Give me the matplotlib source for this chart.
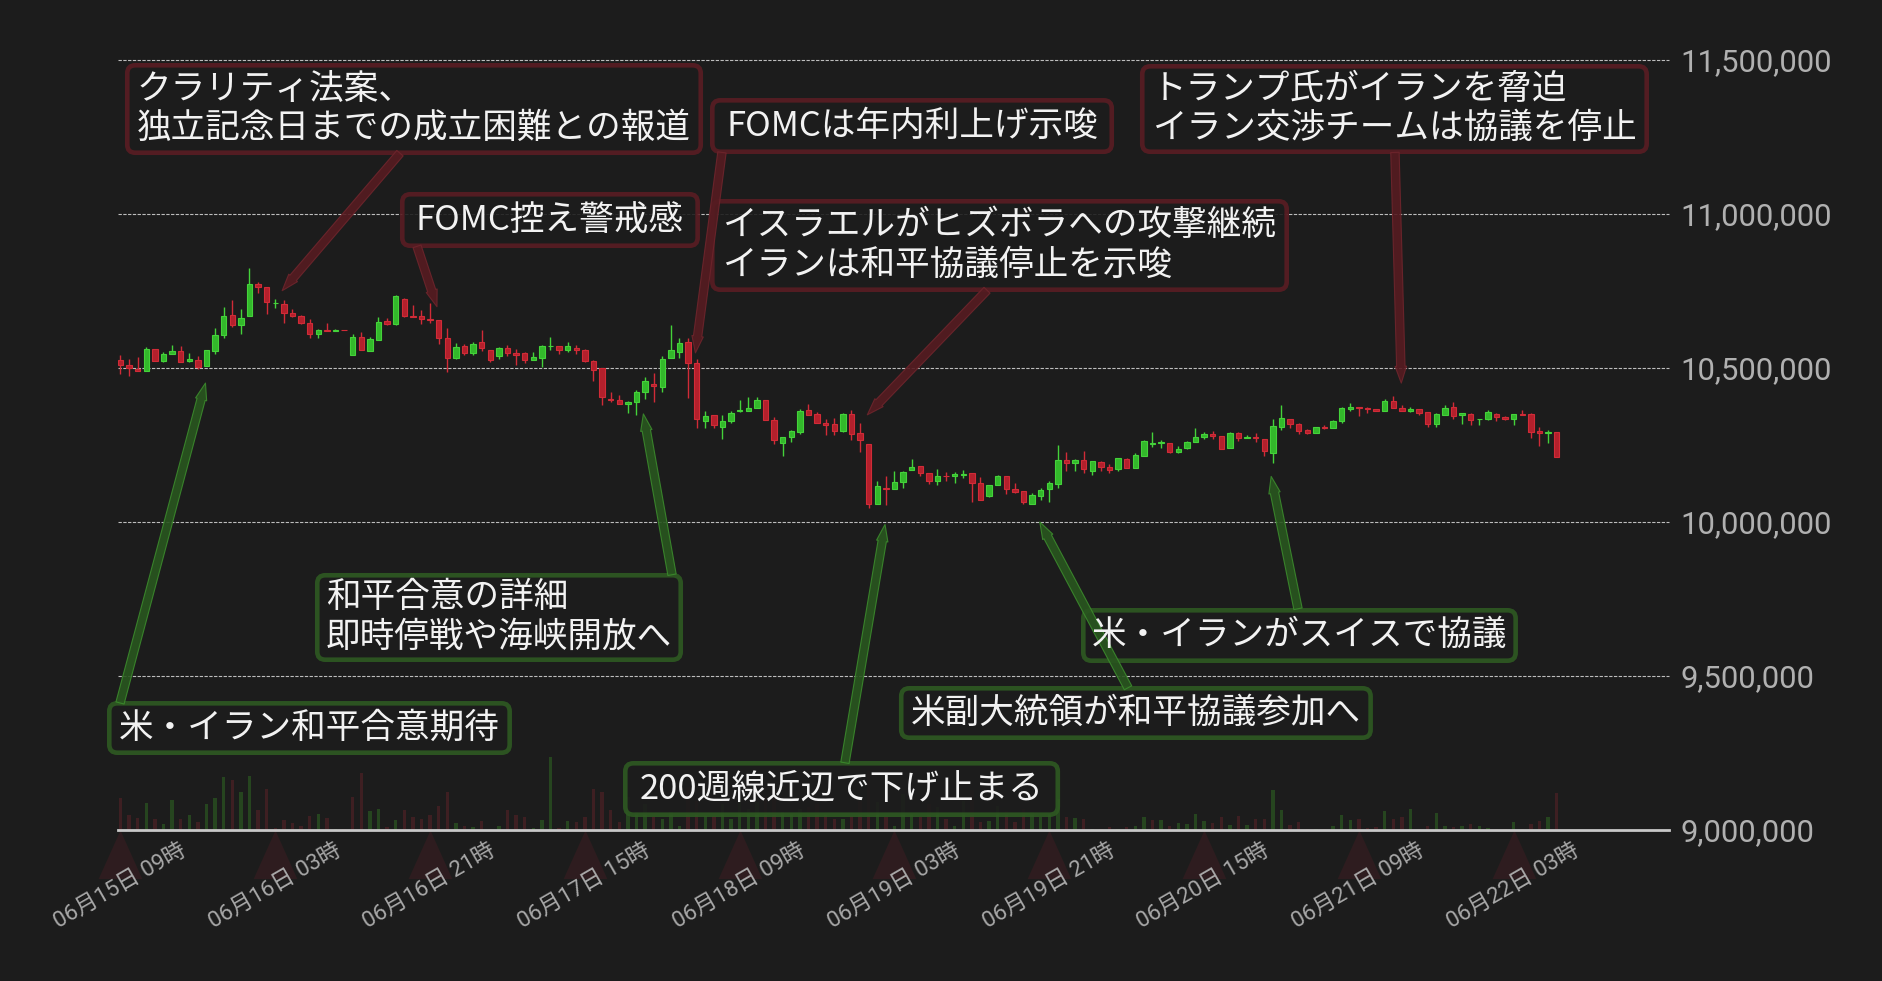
import numpy as np
import pandas as pd
import matplotlib
matplotlib.use("Agg")
import matplotlib.pyplot as plt
from matplotlib.patches import FancyBboxPatch
from matplotlib.path import Path

plt.rcParams['font.family'] = ['Noto Sans CJK JP', 'DejaVu Sans']

# ---------------- data (prices in thousand yen) ----------------
start_time = "2025-06-15 09:00"
opens = [10527, 10511, 10498, 10489, 10563, 10522, 10545, 10556, 10522, 10527,
         10505, 10554, 10606, 10673, 10638, 10668, 10774, 10764, 10710, 10709,
         10680, 10670, 10647, 10612, 10624, 10619, 10624, 10541, 10602, 10554,
         10590, 10654, 10642, 10725, 10670, 10670, 10660, 10657, 10598, 10531,
         10572, 10548, 10585, 10559, 10538, 10566, 10550, 10550, 10525, 10531,
         10570, 10572, 10557, 10566, 10559, 10524, 10499, 10400, 10397, 10382,
         10388, 10421, 10449, 10437, 10531, 10551, 10585, 10517, 10327, 10348,
         10310, 10327, 10359, 10362, 10369, 10397, 10332, 10255, 10275, 10291,
         10365, 10352, 10322, 10319, 10294, 10352, 10290, 10254, 10057, 10111,
         10108, 10129, 10168, 10183, 10160, 10132, 10150, 10148, 10151, 10160,
         10128, 10083, 10119, 10150, 10108, 10102, 10060, 10083, 10106, 10122,
         10202, 10193, 10202, 10164, 10196, 10180, 10171, 10206, 10174, 10215,
         10253, 10255, 10257, 10226, 10239, 10259, 10275, 10287, 10280, 10239,
         10290, 10272, 10277, 10270, 10223, 10310, 10335, 10319, 10300, 10288,
         10309, 10304, 10327, 10368, 10374, 10371, 10368, 10362, 10394, 10371,
         10362, 10368, 10358, 10317, 10349, 10374, 10347, 10352, 10333, 10333,
         10352, 10342, 10333, 10352, 10352, 10296, 10288, 10293]
highs = [10543, 10530, 10537, 10569, 10563, 10553, 10576, 10572, 10550, 10540,
         10559, 10631, 10699, 10722, 10693, 10826, 10780, 10764, 10725, 10722,
         10693, 10673, 10660, 10628, 10647, 10628, 10624, 10611, 10618, 10602,
         10667, 10663, 10738, 10728, 10706, 10689, 10712, 10657, 10631, 10582,
         10579, 10585, 10624, 10559, 10569, 10576, 10563, 10553, 10553, 10576,
         10602, 10572, 10585, 10576, 10563, 10527, 10499, 10423, 10413, 10394,
         10430, 10472, 10485, 10540, 10641, 10598, 10598, 10530, 10361, 10348,
         10348, 10361, 10397, 10407, 10407, 10397, 10342, 10277, 10300, 10368,
         10384, 10358, 10335, 10339, 10355, 10365, 10322, 10254, 10134, 10150,
         10167, 10167, 10206, 10183, 10160, 10173, 10163, 10163, 10170, 10160,
         10147, 10121, 10154, 10150, 10128, 10102, 10095, 10111, 10134, 10251,
         10228, 10206, 10231, 10199, 10199, 10189, 10209, 10209, 10225, 10267,
         10293, 10267, 10257, 10248, 10264, 10306, 10293, 10296, 10280, 10293,
         10293, 10283, 10290, 10270, 10335, 10381, 10335, 10322, 10303, 10309,
         10316, 10332, 10374, 10387, 10374, 10374, 10368, 10400, 10410, 10381,
         10374, 10368, 10358, 10355, 10381, 10391, 10353, 10355, 10335, 10365,
         10355, 10345, 10352, 10365, 10355, 10309, 10300, 10293]
lows = [10482, 10473, 10489, 10489, 10522, 10518, 10545, 10518, 10518, 10498,
        10505, 10544, 10596, 10632, 10612, 10668, 10742, 10674, 10694, 10645,
        10664, 10642, 10599, 10596, 10619, 10619, 10622, 10541, 10557, 10554,
        10590, 10638, 10638, 10664, 10664, 10642, 10645, 10577, 10486, 10528,
        10541, 10541, 10554, 10518, 10528, 10538, 10509, 10515, 10525, 10502,
        10557, 10544, 10551, 10544, 10518, 10457, 10379, 10388, 10382, 10353,
        10349, 10398, 10388, 10421, 10531, 10531, 10401, 10304, 10304, 10304,
        10268, 10320, 10356, 10362, 10369, 10330, 10252, 10213, 10259, 10285,
        10346, 10320, 10281, 10281, 10291, 10265, 10226, 10044, 10057, 10054,
        10106, 10109, 10168, 10148, 10122, 10119, 10132, 10125, 10142, 10064,
        10073, 10080, 10119, 10090, 10093, 10057, 10060, 10073, 10064, 10112,
        10167, 10167, 10158, 10151, 10164, 10158, 10164, 10174, 10174, 10213,
        10242, 10239, 10223, 10223, 10236, 10259, 10268, 10268, 10236, 10239,
        10262, 10272, 10259, 10213, 10190, 10298, 10304, 10285, 10285, 10288,
        10301, 10304, 10320, 10362, 10345, 10355, 10359, 10362, 10369, 10359,
        10356, 10349, 10307, 10307, 10346, 10336, 10317, 10314, 10314, 10330,
        10327, 10330, 10314, 10346, 10272, 10246, 10255, 10210]
closes = [10509, 10500, 10489, 10563, 10522, 10546, 10556, 10518, 10530, 10504,
          10559, 10608, 10670, 10638, 10663, 10774, 10762, 10713, 10712, 10677,
          10668, 10645, 10612, 10624, 10619, 10624, 10622, 10602, 10557, 10595,
          10650, 10642, 10735, 10668, 10664, 10658, 10655, 10596, 10531, 10569,
          10548, 10579, 10564, 10525, 10566, 10548, 10541, 10525, 10537, 10572,
          10572, 10557, 10572, 10557, 10522, 10492, 10405, 10395, 10382, 10391,
          10423, 10459, 10440, 10530, 10559, 10582, 10515, 10333, 10345, 10314,
          10329, 10355, 10365, 10371, 10397, 10330, 10265, 10277, 10296, 10361,
          10349, 10320, 10314, 10294, 10352, 10285, 10265, 10057, 10118, 10106,
          10131, 10163, 10180, 10158, 10132, 10150, 10148, 10157, 10157, 10125,
          10073, 10121, 10150, 10106, 10096, 10064, 10089, 10105, 10128, 10202,
          10193, 10202, 10171, 10199, 10177, 10168, 10209, 10174, 10218, 10264,
          10257, 10261, 10226, 10238, 10261, 10277, 10287, 10278, 10236, 10290,
          10272, 10277, 10272, 10229, 10313, 10339, 10317, 10294, 10288, 10309,
          10304, 10329, 10371, 10374, 10369, 10366, 10359, 10394, 10369, 10362,
          10368, 10353, 10317, 10352, 10371, 10343, 10353, 10330, 10335, 10358,
          10340, 10336, 10352, 10346, 10291, 10288, 10293, 10210]
volumes = [97, 46, 37, 82, 34, 19, 91, 34, 46, 25, 79, 97, 160, 151, 115, 163, 61, 124, 6, 31,
           22, 13, 43, 49, 37, 2, 2, 100, 172, 58, 64, 10, 31, 61, 40, 34, 46, 73, 115, 22,
           13, 10, 28, 2, 13, 61, 46, 40, 7, 31, 220, 7, 28, 25, 40, 124, 115, 61, 23, 98,
           53, 78, 40, 33, 53, 13, 128, 88, 43, 43, 78, 33, 103, 63, 83, 98, 118, 53, 48, 63,
           68, 78, 48, 33, 33, 43, 88, 178, 83, 38, 13, 108, 48, 38, 78, 68, 33, 13, 88, 120,
           23, 28, 73, 56, 25, 63, 53, 38, 48, 93, 40, 37, 34, 4, 2, 10, 4, 10, 13, 40,
           31, 31, 13, 22, 19, 49, 28, 22, 40, 16, 43, 16, 34, 34, 121, 61, 16, 25, 2, 2,
           4, 13, 46, 31, 34, 7, 10, 58, 34, 40, 64, 4, 13, 52, 13, 10, 13, 19, 13, 7,
           2, 2, 25, 2, 19, 28, 40, 112]
price_ticks = [9000000, 9500000, 10000000, 10500000, 11000000, 11500000]
xtick_every_hours = 18

# annotation texts and their targets (candle hour index, price)
ann_texts = ["クラリティ法案、\n独立記念日までの成立困難との報道",
             "FOMC控え警戒感",
             "FOMCは年内利上げ示唆",
             "イスラエルがヒズボラへの攻撃継続\nイランは和平協議停止を示唆",
             "トランプ氏がイランを脅迫\nイラン交渉チームは協議を停止",
             "米・イラン和平合意期待",
             "和平合意の詳細\n即時停戦や海峡開放へ",
             "200週線近辺で下げ止まる",
             "米副大統領が和平協議参加へ",
             "米・イランがスイスで協議"]
ann_kind = ["neg", "neg", "neg", "neg", "neg", "pos", "pos", "pos", "pos", "pos"]
ann_target_hour = [18.8, 36.8, 66.85, 86.84, 148.93, 9.88, 60.8, 88.9, 106.9, 133.8]
ann_target_price = [10751000, 10699000, 10549000, 10348000, 10451000,
                    10451000, 10351000, 9992000, 10000000, 10148000]

# layout (axes fraction): box x0, y0, x1, y1 and arrow start
ann_box = [(0.0045, 0.8766, 0.3772, 0.9961),
           (0.1818, 0.7558, 0.3752, 0.8286),
           (0.3817, 0.8779, 0.6422, 0.9506),
           (0.3817, 0.6987, 0.7550, 0.8195),
           (0.6589, 0.8779, 0.9871, 0.9948),
           (-0.0071, 0.0974, 0.2540, 0.1675),
           (0.1270, 0.2182, 0.3643, 0.3338),
           (0.3256, 0.0169, 0.6074, 0.0896),
           (0.5035, 0.1169, 0.8091, 0.1870),
           (0.6209, 0.2169, 0.9026, 0.2883)]
ann_start = [(0.1818, 0.8790), (0.1928, 0.7580), (0.3894, 0.8800), (0.5603, 0.7010),
             (0.8233, 0.8800), (0.0013, 0.1650), (0.3572, 0.3315), (0.4687, 0.0873),
             (0.6512, 0.1847), (0.7608, 0.2873)]

# ---------------- style ----------------
BG = "#1c1c1c"
G_FILL, G_EDGE = "#33b82b", "#44d23a"
R_FILL, R_EDGE = "#b3202c", "#d12b37"
VOL_G, VOL_R = "#26451f", "#3e1f22"
BOX_EDGE = {"neg": "#5a1d23", "pos": "#2e5a22"}
ARROW_FC = {"neg": "#561b21", "pos": "#29561f"}
ARROW_EC = {"neg": "#6e252c", "pos": "#3b8a2c"}

o = np.array(opens) * 1000.0
h = np.array(highs) * 1000.0
l = np.array(lows) * 1000.0
c = np.array(closes) * 1000.0
v = np.array(volumes, dtype=float)
n = len(o)
x = np.arange(n)
times = pd.date_range(start_time, periods=n, freq="h")

W, H = 1883, 981
fig = plt.figure(figsize=(W / 100, H / 100), dpi=100, facecolor=BG)
L_PX, R_PX, T_PX, B_PX = 118, 1669, 60, 830
ax = fig.add_axes([L_PX / W, (H - B_PX) / H, (R_PX - L_PX) / W, (B_PX - T_PX) / H])
axv = ax.twinx()
ax.set_zorder(axv.get_zorder() + 1)
ax.patch.set_visible(False)
axv.patch.set_visible(False)

# volume
prev_close = np.concatenate([[o[0]], c[:-1]])
vol_up = c >= prev_close
axv.bar(x, v, width=0.4, color=np.where(vol_up, VOL_G, VOL_R), zorder=1)
axv.set_ylim(0, v.max() * 10.5)
axv.set_yticks([])
for s in axv.spines.values():
    s.set_visible(False)

# grid
for p in price_ticks[1:]:
    ax.axhline(p, color="#bdbdbd", lw=0.8, ls=(0, (3, 1.3)), zorder=1, clip_on=False)
ax.axhline(price_ticks[0], color="#c8c8c8", lw=2.0, zorder=2, clip_on=False)

# candles
up = c >= o
edge = np.where(up, G_EDGE, R_EDGE)
fill = np.where(up, G_FILL, R_FILL)
ax.vlines(x, l, h, colors=edge, lw=1.0, zorder=3)
ax.bar(x, np.abs(c - o), bottom=np.minimum(o, c), width=0.62, color=fill,
       edgecolor=edge, linewidth=0.8, zorder=4)

ax.set_xlim(-0.29, 180.06)
ax.set_ylim(price_ticks[0], price_ticks[-1])
for s in ax.spines.values():
    s.set_visible(False)

# y ticks on right
ax.yaxis.tick_right()
ax.set_yticks(price_ticks)
ax.set_yticklabels([f"{p:,.0f}" for p in price_ticks])
ax.tick_params(axis="y", length=0, pad=8.5, labelsize=22.3, labelcolor="#b0b0b0")
for t in ax.get_yticklabels():
    t.set_family(["Roboto", "Noto Sans CJK JP"])

# x ticks
tick_idx = list(range(0, n, xtick_every_hours))
ax.set_xticks(tick_idx)
ax.set_xticklabels([times[i].strftime("%m月%d日 %H時") for i in tick_idx])
ax.tick_params(axis="x", length=0, pad=8, labelsize=16.2, labelcolor="#a8a8a8")
for t in ax.get_xticklabels():
    t.set_rotation(30)
    t.set_ha("center")
    t.set_family(["Roboto", "Noto Sans CJK JP"])

# triangles under ticks
tri = Path([(0, 0), (-0.45, -1), (0.45, -1), (0, 0)],
           [Path.MOVETO, Path.LINETO, Path.LINETO, Path.CLOSEPOLY])
ax.plot(tick_idx, [price_ticks[0]] * len(tick_idx), ls="none", marker=tri, ms=70,
        color="#2e1c1f", mew=0, clip_on=False, zorder=0.5)

# annotations
ax_w, ax_h = R_PX - L_PX, B_PX - T_PX
lw_box = 3.3
inset_x = (lw_box / 72 * 100 / 2) / ax_w
inset_y = (lw_box / 72 * 100 / 2) / ax_h
for txt, kind, bx, st, th, tp in zip(ann_texts, ann_kind, ann_box, ann_start,
                                     ann_target_hour, ann_target_price):
    x0, y0, x1, y1 = bx
    patch = FancyBboxPatch((x0 + inset_x, y0 + inset_y), (x1 - x0 - 2 * inset_x),
                           (y1 - y0 - 2 * inset_y),
                           boxstyle="round,pad=0,rounding_size=0.0052",
                           mutation_aspect=ax_w / ax_h,
                           transform=ax.transAxes, facecolor=BG, alpha=0.9,
                           edgecolor=BOX_EDGE[kind], lw=lw_box, zorder=5, clip_on=False)
    ax.add_patch(patch)
    ax.text((x0 + x1) / 2, (y0 + y1) / 2, txt, transform=ax.transAxes,
            ha="center", va="center", multialignment="left", fontsize=24.9,
            color="#f2f2f2", linespacing=1.15, zorder=8, clip_on=False)
    ax.annotate("", xy=(th, tp), xycoords="data", xytext=st, textcoords="axes fraction",
                arrowprops=dict(arrowstyle="simple,head_length=1.1,head_width=0.75,tail_width=0.55",
                                mutation_scale=11, fc=ARROW_FC[kind], ec=ARROW_EC[kind],
                                lw=0.8, alpha=0.9, shrinkA=0, shrinkB=0),
                zorder=6, annotation_clip=False)

fig.savefig("out.png", dpi=100, facecolor=BG)
